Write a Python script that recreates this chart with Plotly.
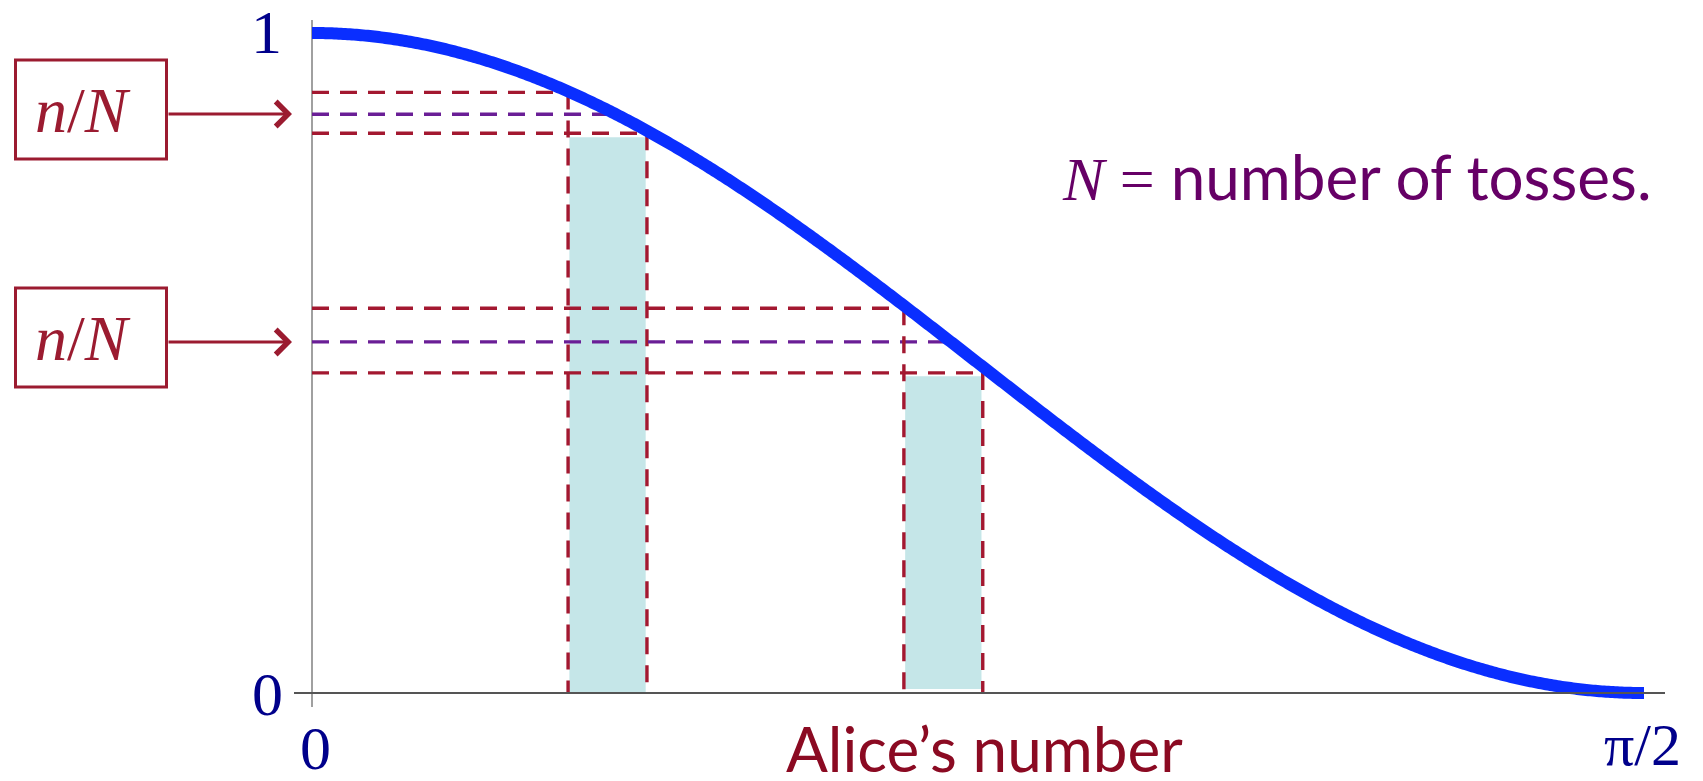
import numpy as np
import plotly.graph_objects as go

W, H = 1703, 781

interval_lo = [0.302, 0.698]
interval_hi = [0.395, 0.791]
upper_level = [0.910, 0.583]      # curve value at the left end of the interval
lower_level = [0.848, 0.485]      # curve value at the right end of the interval
observed_freq = [0.877, 0.532]    # measured n/N
bar_height = [0.842, 0.480]
bar_base = [0.0, 0.006]

# Axis extents
x_max = np.pi / 2
tick_labels_y = ["0", "1"]
tick_labels_x = ["0", "π/2"]

RED = "#9B1B30"
DASH_RED = "#A31830"
PURPLE = "#6A1E96"
BLUE = "#0A2EFF"
NAVY = "#00008B"
SERIF = "Liberation Serif"
SANS = "Lato"

# pixel mapping of the plotting frame
X0_PX, Y0_PX = 312, 693
SX = 1332 / x_max
SY = 660.0
x_range = [-X0_PX / SX, (W - X0_PX) / SX]
y_range = [(Y0_PX - H) / SY, Y0_PX / SY]


def px(xp):
    return xp / W


def py(yp):
    return 1 - yp / H


fig = go.Figure()

# shaded bars over each interval
for lo, hi, top, base in zip(interval_lo, interval_hi, bar_height, bar_base):
    fig.add_trace(go.Bar(
        x=[(lo + hi) / 2], y=[top - base], base=[base], width=[hi - lo - 0.003],
        marker=dict(color="#C5E6E8", line=dict(width=0)), hoverinfo="skip",
    ))

dash = "17px,11px"
LW = 3.4
for lo, hi, up, low, f in zip(interval_lo, interval_hi, upper_level, lower_level, observed_freq):
    # horizontal guides from the axis
    fig.add_trace(go.Scatter(x=[0, lo], y=[up, up], mode="lines",
                             line=dict(color=DASH_RED, width=LW, dash=dash), hoverinfo="skip"))
    fig.add_trace(go.Scatter(x=[0, hi], y=[low, low], mode="lines",
                             line=dict(color=DASH_RED, width=LW, dash=dash), hoverinfo="skip"))
    x_hit = float(np.arccos(np.sqrt(f)))
    fig.add_trace(go.Scatter(x=[0, x_hit], y=[f, f], mode="lines",
                             line=dict(color=PURPLE, width=LW, dash=dash), hoverinfo="skip"))
    # vertical guides down to the axis
    fig.add_trace(go.Scatter(x=[lo, lo], y=[up, 0], mode="lines",
                             line=dict(color=DASH_RED, width=LW, dash=dash), hoverinfo="skip"))
    fig.add_trace(go.Scatter(x=[hi, hi], y=[low, 0], mode="lines",
                             line=dict(color=DASH_RED, width=LW, dash=dash), hoverinfo="skip"))

# probability curve cos^2
theta = np.linspace(0, x_max, 600)
fig.add_trace(go.Scatter(x=theta, y=np.cos(theta) ** 2, mode="lines",
                         line=dict(color=BLUE, width=12, simplify=False), hoverinfo="skip"))

shapes = [
    # axes
    dict(type="line", xref="x", yref="y", x0=0, x1=0,
         y0=(Y0_PX - 20) / SY, y1=(Y0_PX - 707) / SY,
         line=dict(color="#808080", width=1.5), layer="below"),
    dict(type="line", xref="x", yref="y", x0=-18 / SX, x1=(1665 - X0_PX) / SX,
         y0=0, y1=0, line=dict(color="#555555", width=2), layer="above"),
]
# n/N boxes
for top_px in (60, 288):
    shapes.append(dict(type="rect", xref="paper", yref="paper",
                       x0=px(15.5), x1=px(166.5), y0=py(top_px), y1=py(top_px + 99),
                       line=dict(color=RED, width=3), fillcolor="rgba(0,0,0,0)"))


def label(xp, yp, text, size, color, family=SERIF, xanchor="center", height=None):
    ann = dict(xref="paper", yref="paper", x=px(xp), y=py(yp), text=text,
               xanchor=xanchor, yanchor="middle", showarrow=False, borderpad=0,
               font=dict(family=family, size=size, color=color))
    if height is not None:
        ann["height"] = height
        ann["valign"] = "middle"
    return ann


annotations = []
for f, ypx in zip(observed_freq, (114, 342)):
    annotations.append(label(83, ypx - 4, "<i>n</i>/<i>N</i>", 64, RED))
    annotations.append(dict(xref="paper", yref="paper", x=px(292), y=py(ypx),
                            ax=-125, ay=0, text="", showarrow=True,
                            arrowhead=4, arrowsize=1.6, arrowwidth=3, arrowcolor=RED))

annotations += [
    label(266, 32, tick_labels_y[1], 62, NAVY, height=56),
    label(267, 694, tick_labels_y[0], 62, NAVY),
    label(315, 748, tick_labels_x[0], 62, NAVY, height=56),
    label(1642, 745, tick_labels_x[1], 60, NAVY, height=56),
    label(984, 748, "Alice’s number", 62, "#8B0A22", family=SANS, height=56),
    label(1653, 176,
          f"<span style='font-family:{SERIF}'><i>N</i> =</span> number of tosses.",
          62, "#660066", family=SANS, xanchor="right"),
]

fig.update_layout(
    width=W, height=H,
    margin=dict(l=0, r=0, t=0, b=0),
    paper_bgcolor="white", plot_bgcolor="white",
    showlegend=False, barmode="overlay",
    xaxis=dict(range=x_range, visible=False, fixedrange=True),
    yaxis=dict(range=y_range, visible=False, fixedrange=True),
    shapes=shapes, annotations=annotations,
)

fig.write_html("out.html")
